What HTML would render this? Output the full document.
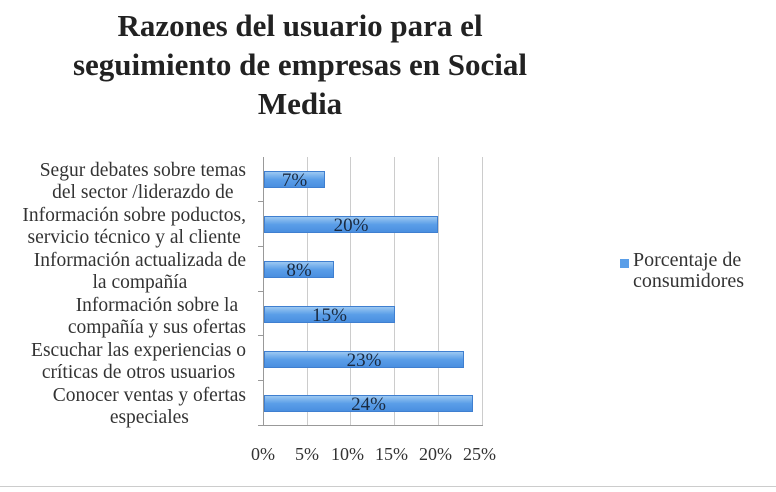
<!DOCTYPE html>
<html><head><style>
body{margin:0;width:776px;height:492px;background:#fff;position:relative;overflow:hidden;font-family:"Liberation Serif",serif;}
.t{position:absolute;left:0;width:600px;text-align:center;font-weight:bold;font-size:31px;color:#222;line-height:39px;top:6px;}
.lab{position:absolute;right:530px;text-align:center;font-size:19.5px;line-height:22px;color:#333;white-space:nowrap;}
.bar{position:absolute;left:264px;height:17px;background:linear-gradient(#9cc8f2,#5a9ee8 50%,#4a8fe0);border:1px solid #3f7fd0;box-sizing:border-box;text-align:center;font-size:19px;line-height:17px;color:#1a2a40;}
.g{position:absolute;top:157px;height:268px;width:1px;background:#ccc;}
.tk{position:absolute;top:444px;font-size:18px;color:#333;}
</style></head><body>
<div class="t">Razones del usuario para el<br>seguimiento de empresas en Social<br>Media</div>
<div class="g" style="left:263px;background:#999"></div>
<div class="g" style="left:307px"></div><div class="g" style="left:350px"></div><div class="g" style="left:394px"></div><div class="g" style="left:438px"></div><div class="g" style="left:482px"></div>
<div style="position:absolute;left:258px;top:425px;width:225px;height:1px;background:#999"></div>
<div style="position:absolute;left:258px;top:201px;width:5px;height:1px;background:#999"></div>
<div style="position:absolute;left:258px;top:246px;width:5px;height:1px;background:#999"></div>
<div style="position:absolute;left:258px;top:291px;width:5px;height:1px;background:#999"></div>
<div style="position:absolute;left:258px;top:335px;width:5px;height:1px;background:#999"></div>
<div style="position:absolute;left:258px;top:380px;width:5px;height:1px;background:#999"></div>
<div class="bar" style="top:171px;width:61px">7%</div>
<div class="bar" style="top:216px;width:174px">20%</div>
<div class="bar" style="top:261px;width:70px">8%</div>
<div class="bar" style="top:306px;width:131px">15%</div>
<div class="bar" style="top:351px;width:200px">23%</div>
<div class="bar" style="top:395px;width:209px">24%</div>
<div class="lab" style="top:160px">Segur debates sobre temas<br>del sector /liderazdo de</div>
<div class="lab" style="top:205px">Información sobre poductos,<br>servicio técnico y al cliente</div>
<div class="lab" style="top:250px">Información actualizada de<br>la compañía</div>
<div class="lab" style="top:295px">Información sobre la<br>compañía y sus ofertas</div>
<div class="lab" style="top:340px">Escuchar las experiencias o<br>críticas de otros usuarios</div>
<div class="lab" style="top:385px">Conocer ventas y ofertas<br>especiales</div>
<div class="tk" style="left:251px">0%</div><div class="tk" style="left:295px">5%</div><div class="tk" style="left:331px">10%</div><div class="tk" style="left:375px">15%</div><div class="tk" style="left:419px">20%</div><div class="tk" style="left:463px">25%</div>
<div style="position:absolute;left:620px;top:259px;width:9px;height:9px;background:#5a9ee8"></div>
<div style="position:absolute;left:633px;top:250px;font-size:20px;line-height:21px;color:#333">Porcentaje de<br>consumidores</div>
<div style="position:absolute;left:0;top:486px;width:776px;height:1px;background:#ccc"></div>
</body></html>
